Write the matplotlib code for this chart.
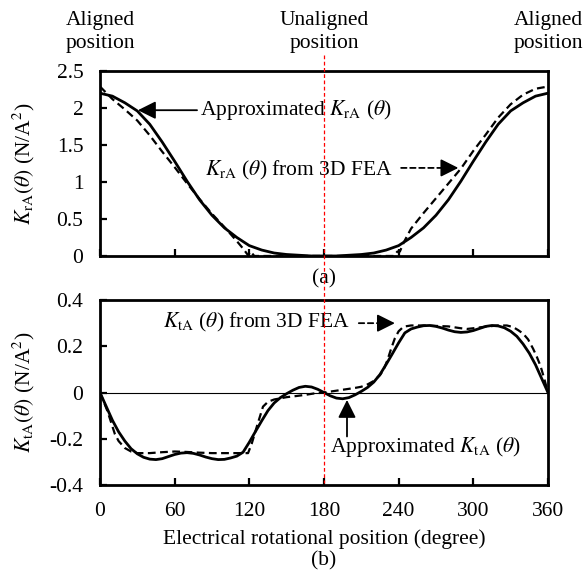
import matplotlib
matplotlib.use("Agg")
import matplotlib.pyplot as plt
from matplotlib.lines import Line2D
from matplotlib.ticker import FuncFormatter, MultipleLocator

plt.rcParams['font.family'] = ['Liberation Serif', 'DejaVu Serif']
plt.rcParams['mathtext.fontset'] = 'stix'
plt.rcParams['axes.unicode_minus'] = False

# ---- data ----
# (a) radial coefficient, approximated curve
kr_approx_deg = [0, 10, 20, 30, 40, 50, 60, 70, 80, 90, 100, 110, 120, 130, 140, 150, 160, 170, 180,
                 190, 200, 210, 220, 230, 240, 250, 260, 270, 280, 290, 300, 310, 320, 330, 340, 350, 360]
kr_approx = [2.20, 2.16, 2.07, 1.96, 1.78, 1.54, 1.28, 1.01, 0.76, 0.55, 0.38, 0.25, 0.14, 0.08, 0.04, 0.02, 0.01, 0.0, 0.0,
             0.0, 0.01, 0.02, 0.04, 0.08, 0.14, 0.25, 0.38, 0.55, 0.76, 1.01, 1.28, 1.54, 1.78, 1.96, 2.07, 2.16, 2.20]

# (a) radial coefficient from 3D FEA
kr_fea_deg = [0, 10, 20, 30, 40, 50, 60, 70, 80, 90, 100, 110, 115, 119, 121, 124, 130, 180,
              236, 239, 241, 244, 250, 260, 270, 280, 290, 300, 310, 320, 330, 340, 350, 360]
kr_fea = [2.29, 2.12, 1.98, 1.83, 1.63, 1.41, 1.20, 0.98, 0.77, 0.57, 0.39, 0.20, 0.10, 0.01, 0.06, 0.0, 0.0, 0.0,
          0.0, 0.06, 0.06, 0.18, 0.37, 0.58, 0.78, 0.98, 1.18, 1.42, 1.64, 1.87, 2.05, 2.18, 2.26, 2.29]

# (b) tangential coefficient, approximated curve
kt_approx_deg = list(range(0, 361, 5))
kt_approx = [0.0, -0.06, -0.12, -0.17, -0.21, -0.243, -0.265, -0.28, -0.288, -0.29, -0.286, -0.277, -0.268,
             -0.262, -0.26, -0.263, -0.27, -0.279, -0.286, -0.29, -0.289, -0.283, -0.275, -0.258, -0.215,
             -0.168, -0.122, -0.078, -0.045, -0.022, -0.005, 0.01, 0.022, 0.027, 0.024, 0.014, 0.0,
             -0.014, -0.024, -0.027, -0.022, -0.01, 0.005, 0.022, 0.045, 0.078, 0.122, 0.168, 0.215,
             0.258, 0.275, 0.283, 0.289, 0.29, 0.286, 0.279, 0.27, 0.263, 0.26, 0.262, 0.268, 0.277,
             0.286, 0.29, 0.288, 0.28, 0.265, 0.243, 0.21, 0.17, 0.12, 0.06, 0.0]

# (b) tangential coefficient from 3D FEA
kt_fea_deg = [0, 3, 6, 9, 12, 15, 20, 25, 30, 40, 50, 60, 70, 80, 90, 100, 110, 115, 119, 122, 126, 131,
              135, 140, 145, 150, 158, 165, 172, 180,
              185, 190, 195, 200, 205, 210, 215, 220, 225, 228, 231, 234, 237, 240, 244, 250, 260, 270,
              280, 290, 295, 300, 310, 320, 327, 332, 336, 340, 344, 348, 351, 354, 357, 360]
kt_fea = [0.0, -0.04, -0.08, -0.13, -0.18, -0.21, -0.24, -0.255, -0.262, -0.262, -0.258, -0.255, -0.257,
          -0.26, -0.262, -0.262, -0.262, -0.262, -0.262, -0.22, -0.148, -0.061, -0.04, -0.03, -0.025,
          -0.02, -0.015, -0.01, -0.004, 0.0,
          0.004, 0.008, 0.012, 0.016, 0.02, 0.025, 0.035, 0.05, 0.075, 0.1, 0.14, 0.19, 0.235, 0.265,
          0.285, 0.29, 0.29, 0.288, 0.286, 0.278, 0.275, 0.278, 0.285, 0.29, 0.29, 0.283, 0.27, 0.255,
          0.23, 0.19, 0.155, 0.115, 0.06, 0.0]

x_ticks = [0, 60, 120, 180, 240, 300, 360]

FS = 15.5

fig = plt.figure(figsize=(5.85, 5.79), dpi=100)
ax1 = fig.add_axes([0.1709, 0.5579, 0.7658, 0.3195])
ax2 = fig.add_axes([0.1709, 0.1623, 0.7658, 0.3195])

fmt = FuncFormatter(lambda v, p: '%g' % round(v, 3))

for ax in (ax1, ax2):
    ax.set_xlim(0, 360)
    ax.set_xticks(x_ticks)
    ax.tick_params(direction='in', length=5, width=1.6, labelsize=FS, pad=12,
                   top=False, right=False)
    for s in ax.spines.values():
        s.set_linewidth(2.0)
    ax.yaxis.set_major_formatter(fmt)

# top panel
ax1.plot(kr_approx_deg, kr_approx, color='black', lw=2.0)
ax1.plot(kr_fea_deg, kr_fea, color='black', lw=1.6, ls=(0, (3.5, 2)))
ax1.set_ylim(0, 2.5)
ax1.yaxis.set_major_locator(MultipleLocator(0.5))
ax1.set_xticklabels([])
ax1.text(-0.17, 0.5, r'$K_{\mathrm{rA}}(\theta)$ (N/A$^2$)', transform=ax1.transAxes, rotation=90,
         ha='center', va='center', fontsize=FS)

# bottom panel
ax2.axhline(0, color='black', lw=0.8)
ax2.plot(kt_approx_deg, kt_approx, color='black', lw=2.0)
ax2.plot(kt_fea_deg, kt_fea, color='black', lw=1.6, ls=(0, (3.5, 2)))
ax2.set_ylim(-0.4, 0.4)
ax2.yaxis.set_major_locator(MultipleLocator(0.2))
ax2.text(-0.17, 0.5, r'$K_{\mathrm{tA}}(\theta)$ (N/A$^2$)', transform=ax2.transAxes, rotation=90,
         ha='center', va='center', fontsize=FS)

# position labels above top panel
for xp, lbl in [(0, 'Aligned\nposition'), (180, 'Unaligned\nposition'), (360, 'Aligned\nposition')]:
    ax1.text(xp, 3.03, lbl, ha='center', va='center', fontsize=FS, linespacing=1.3, clip_on=False)

ax1.text(180, -0.31, '(a)', ha='center', va='center', fontsize=FS, clip_on=False)
ax2.text(180, -0.633, 'Electrical rotational position (degree)', ha='center', va='center', fontsize=FS,
         clip_on=False)
ax2.text(180, -0.728, '(b)', ha='center', va='center', fontsize=FS, clip_on=False)

# red dashed line at the unaligned position
pos1 = ax1.get_position()
xr = pos1.x0 + pos1.width * 0.5
fig.add_artist(Line2D([xr, xr], [1 - 55 / 579, 1 - 483 / 579], transform=fig.transFigure,
                      color='red', lw=0.9, ls=(0, (3, 2)), zorder=10))

head = dict(arrowstyle='-|>,head_length=0.6,head_width=0.3', color='black', lw=1.3,
            mutation_scale=18, shrinkA=0, shrinkB=0)
dash = dict(arrowstyle='-', color='black', lw=1.3, ls=(0, (3, 2)), shrinkA=0, shrinkB=0)

# annotations (a)
ax1.text(80.5, 1.97, r'Approximated $K_{\mathrm{rA}}$ ($\theta$)', ha='left', va='center', fontsize=FS)
ax1.annotate('', xy=(30.5, 1.97), xytext=(78, 1.97), arrowprops=head)

ax1.text(84.5, 1.16, r'$K_{\mathrm{rA}}$ ($\theta$) from 3D FEA', ha='left', va='center', fontsize=FS)
ax1.annotate('', xy=(280, 1.19), xytext=(242, 1.19), arrowprops=dash)
ax1.annotate('', xy=(288, 1.19), xytext=(279, 1.19), arrowprops=head)

# annotations (b)
ax2.text(50.5, 0.305, r'$K_{\mathrm{tA}}$ ($\theta$) from 3D FEA', ha='left', va='center', fontsize=FS)
ax2.annotate('', xy=(230, 0.30), xytext=(208, 0.30), arrowprops=dash)
ax2.annotate('', xy=(237, 0.30), xytext=(229, 0.30), arrowprops=head)

ax2.text(185, -0.236, r'Approximated $K_{\mathrm{tA}}$ ($\theta$)', ha='left', va='center', fontsize=FS)
ax2.annotate('', xy=(198.5, -0.032), xytext=(198.5, -0.19), arrowprops=head)

fig.savefig('out.png', dpi=100)
